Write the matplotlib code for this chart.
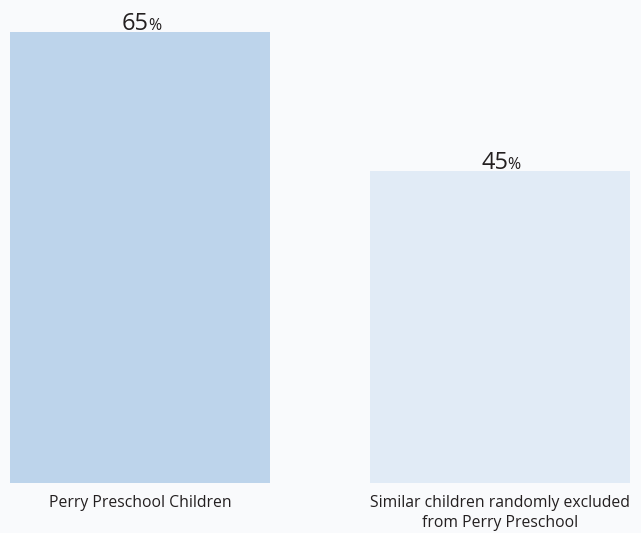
import matplotlib.pyplot as plt

categories = ["Perry Preschool Children", "Similar children randomly excluded\nfrom Perry Preschool"]
values = [65, 45]
colors = ["#bdd4eb", "#e1ebf6"]

plt.rcParams['font.family'] = ['Open Sans', 'DejaVu Sans']

fig = plt.figure(figsize=(6.41, 5.33), dpi=100, facecolor="#f9fafc")
ax = fig.add_axes([0, 0, 1, 1])
ax.set_facecolor("#f9fafc")

x = [0, 1]
bars = ax.bar(x, values, width=0.722, color=colors)

ax.set_xlim(-0.389, 1.392)
ax.set_ylim(-7.21, 69.6)
ax.axis('off')

for xi, v in zip(x, values):
    ax.annotate(str(v), (xi, v), xytext=(6.0, 1.2), textcoords='offset points',
                ha='right', va='baseline', fontsize=17, color="#231f20")
    ax.annotate('%', (xi, v), xytext=(5.6, 1.2), textcoords='offset points',
                ha='left', va='baseline', fontsize=11.5, color="#231f20")

for xi, lab in zip(x, categories):
    ax.text(xi, -1.75, lab, ha='center', va='top', fontsize=11.3,
            color="#231f20", linespacing=1.35)

plt.savefig("out.png", dpi=100, facecolor=fig.get_facecolor())
